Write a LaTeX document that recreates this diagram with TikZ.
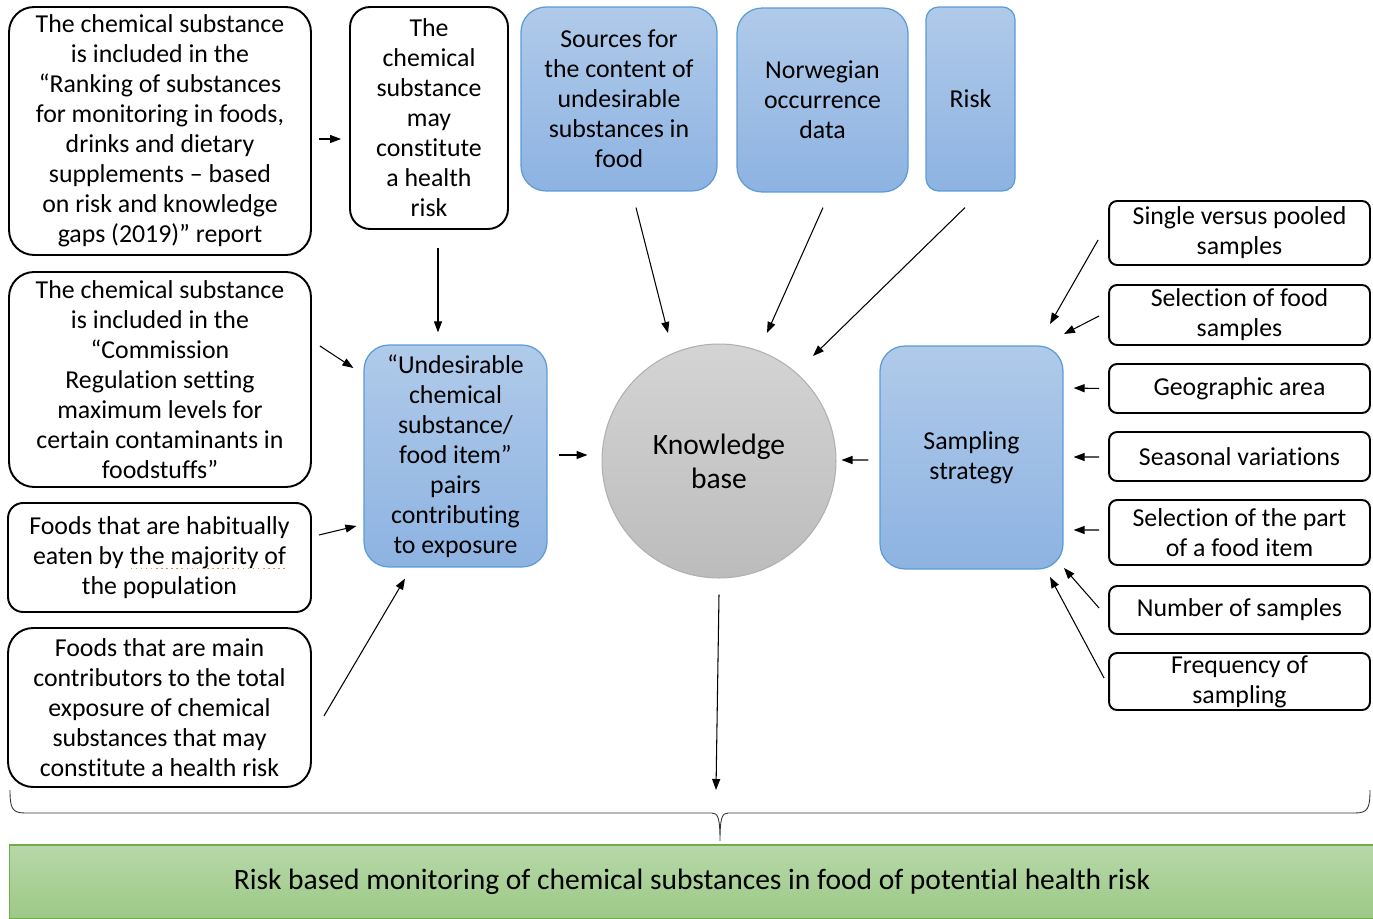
\documentclass[tikz,border=0pt]{standalone}
\usepackage{fontspec}
\setmainfont[Ligatures=NoCommon]{Carlito}
\usetikzlibrary{arrows.meta,calc,shapes.geometric}
\definecolor{btop}{HTML}{B0CAE9}
\definecolor{bbot}{HTML}{8DB3E2}
\definecolor{bblue}{HTML}{5B9BD5}
\definecolor{gtop}{HTML}{B7D8A9}
\definecolor{gbot}{HTML}{9CC986}
\definecolor{gline}{HTML}{70AD47}
\definecolor{ktop}{HTML}{D4D4D4}
\definecolor{kbot}{HTML}{BCBCBC}
\definecolor{kline}{HTML}{B0B0B0}
\definecolor{spell}{HTML}{C89B3C}
\begin{document}
\begin{tikzpicture}[x=0.02cm,y=-0.02cm,
  txt/.style={align=center, font=\fontsize{14.7}{17.07}\selectfont, inner sep=0pt},
  wbox/.style={txt, draw=black, line width=1.1pt, fill=white, rounded corners=0.5cm},
  rbox/.style={txt, draw=black, line width=1.1pt, fill=white, rounded corners=0.16cm, minimum width=5.22cm},
  bbox/.style={txt, draw=bblue, line width=0.7pt, top color=btop, bottom color=bbot, rounded corners=0.5cm},
  arr/.style={-{Triangle[length=2.2mm,width=1.6mm]}, line width=0.6pt}
]
\useasboundingbox (0,0) rectangle (1373,919);

% left column
\node[wbox, minimum width=6.04cm, minimum height=4.96cm] (L1) at (160,131)
  {The chemical substance\\is included in the\\“Ranking of substances\\for monitoring in foods,\\drinks and dietary\\supplements – based\\on risk and knowledge\\gaps (2019)” report};
\node[wbox, rounded corners=0.4cm, minimum width=3.16cm, minimum height=4.44cm] (L2) at (429,118)
  {The\\chemical\\substance\\may\\constitute\\a health\\risk};
\node[wbox, minimum width=6.04cm, minimum height=4.30cm] (L3) at (160,379.5)
  {The chemical substance\\is included in the\\“Commission\\Regulation setting\\maximum levels for\\certain contaminants in\\foodstuffs”};
\node[wbox, rounded corners=0.3cm, minimum width=6.06cm, minimum height=2.18cm] (L4) at (159.5,557.5)
  {Foods that are habitually\\eaten by the majority of\\the population};
\draw[spell, line width=0.9pt, dotted] ($(L4.center)+(-29,11)$) -- ($(L4.center)+(128,11)$);
\node[wbox, minimum width=6.06cm, minimum height=3.18cm] (L5) at (159.5,707.5)
  {Foods that are main\\contributors to the total\\exposure of chemical\\substances that may\\constitute a health risk};

% top blue boxes
\node[bbox, minimum width=3.92cm, minimum height=3.68cm] (S1) at (619,99)
  {Sources for\\the content of\\undesirable\\substances in\\food};
\node[bbox, minimum width=3.42cm, minimum height=3.68cm] (S2) at (822.5,100)
  {Norwegian\\occurrence\\data};
\node[bbox, rounded corners=0.25cm, minimum width=1.78cm, minimum height=3.68cm] (S3) at (970.5,99)
  {Risk};

% middle
\node[bbox, minimum width=3.66cm, minimum height=4.44cm] (U) at (455.5,456)
  {“Undesirable\\chemical\\substance/\\food item”\\pairs\\contributing\\to exposure};
\node[circle, draw=kline, line width=0.6pt, top color=ktop, bottom color=kbot, minimum size=4.68cm, inner sep=0pt,
  align=center, font=\fontsize{16.8}{19.3}\selectfont] (KB) at (719,461) {Knowledge\\base};
\node[bbox, minimum width=3.66cm, minimum height=4.46cm] (SS) at (971.5,457.5)
  {Sampling\\strategy};

% right column
\node[rbox, minimum height=1.28cm] (R1) at (1239.5,233) {Single versus pooled\\samples};
\node[rbox, minimum height=1.20cm] (R2) at (1239.5,315) {Selection of food\\samples};
\node[rbox, minimum height=0.98cm] (R3) at (1239.5,388.5) {Geographic area};
\node[rbox, minimum height=0.98cm] (R4) at (1239.5,456.5) {Seasonal variations};
\node[rbox, minimum height=1.30cm] (R5) at (1239.5,532.5) {Selection of the part\\of a food item};
\node[rbox, minimum height=0.96cm] (R6) at (1239.5,610) {Number of samples};
\node[rbox, minimum height=1.14cm] (R7) at (1239.5,681.5) {Frequency of\\sampling};

% bottom green box
\node[txt, draw=gline, line width=0.8pt, top color=gtop, bottom color=gbot, minimum width=27.3cm, minimum height=1.48cm,
  font=\fontsize{16.8}{19}\selectfont] (G) at (692,882)
  {Risk based monitoring of chemical substances in food of potential health risk};

% brace
\draw[line width=0.5pt, black!80] (10,790) .. controls (10,808) and (12,813) .. (25,813) -- (712,813)
  .. controls (718,813) and (720,818) .. (720,841) .. controls (720,818) and (722,813) .. (728,813)
  -- (1355,813) .. controls (1368,813) and (1370,808) .. (1370,790);
\coordinate (btip) at (716,790);

% arrows
\draw[arr] ($(L1.east)+(7,8)$) -- ($(L2.west)+(-8,21)$);
\draw[arr] ($(L2.south)+(9,18)$) -- ($(U.north)+(-17.5,-12)$);
\draw[arr] ($(L3.east)+(8,-33.5)$) -- ($(U.west)+(-10,-88)$);
\draw[arr] ($(L4.east)+(7,-22.5)$) -- ($(U.west)+(-7,70)$);
\draw[arr] ($(L5.east)+(12,8.5)$) -- ($(U.south)+(-50.5,11)$);
\draw[arr] ($(U.east)+(11,-1)$) -- ($(KB.west)+(-14,-6)$);
\draw[arr] ($(S1.south)+(17,16)$) -- ($(KB.center)+(-51,-128)$);
\draw[arr] ($(S2.south)+(0.5,15)$) -- ($(KB.center)+(48,-128)$);
\draw[arr] ($(S3.south)+(-5.5,16)$) -- ($(KB.center)+(94,-105)$);
\draw[arr] ($(SS.west)+(-11,2.5)$) -- ($(KB.east)+(5,-1)$);
\draw[arr] ($(R1.west)+(-10,7)$) -- ($(SS.center)+(78.5,-133.5)$);
\draw[arr] ($(R2.west)+(-9,1)$) -- ($(SS.center)+(92.5,-123.5)$);
\draw[arr] ($(R3.west)+(-9,0)$) -- ($(SS.east)+(10,-69.5)$);
\draw[arr] ($(R4.west)+(-9,0.5)$) -- ($(SS.east)+(10,-0.5)$);
\draw[arr] ($(R5.west)+(-9,-2.5)$) -- ($(SS.east)+(10,72.5)$);
\draw[arr] ($(R6.west)+(-9,-2)$) -- ($(SS.center)+(92.5,110.5)$);
\draw[arr] ($(R7.west)+(-4,-3.5)$) -- ($(SS.center)+(78.5,119.5)$);
\draw[arr] ($(KB.south)+(0,16)$) -- (btip);
\end{tikzpicture}
\end{document}
